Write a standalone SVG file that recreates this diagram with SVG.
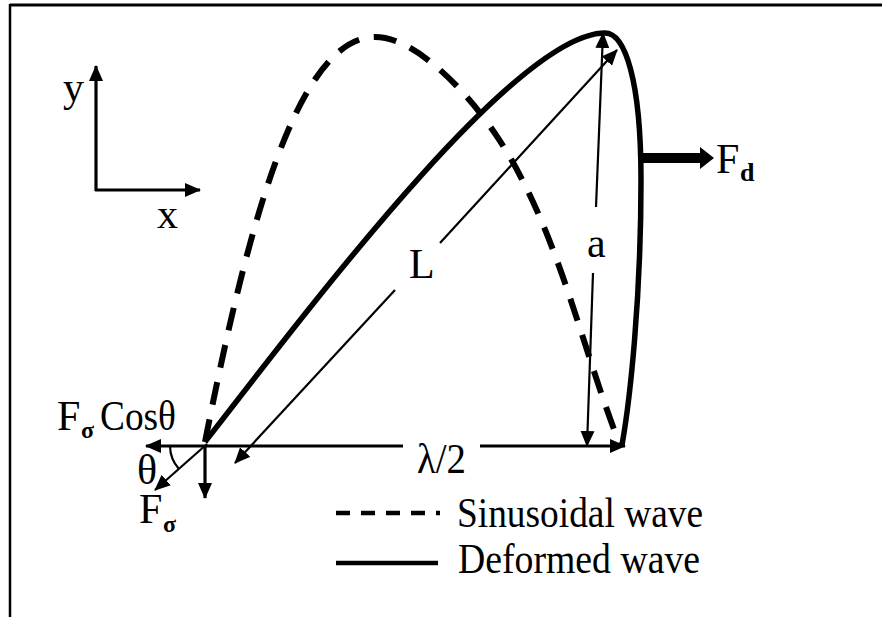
<svg xmlns="http://www.w3.org/2000/svg" width="882" height="617" viewBox="0 0 882 617">
<style>
.t{font-family:"Liberation Serif","Times New Roman",serif;font-size:42px;fill:#000}
.sub{font-family:"Liberation Serif","Times New Roman",serif;font-weight:bold;fill:#000}
.thin{stroke:#000;stroke-width:2.2;fill:none}
.mid{stroke:#000;stroke-width:3.2;fill:none}
.dash{stroke:#000;stroke-width:6;fill:none;stroke-dasharray:23 15}
.solid{stroke:#000;stroke-width:5.5;fill:none;stroke-linejoin:round}
</style>
<defs>
<marker id="ah" markerUnits="userSpaceOnUse" viewBox="0 0 16 14" refX="15" refY="7" markerWidth="16" markerHeight="14" orient="auto">
<path d="M0,0 L16,7 L0,14 z" fill="#000"/>
</marker>
</defs>
<rect width="882" height="617" fill="#fff"/>
<g id="frame">
<line x1="10" y1="5" x2="882" y2="5" stroke="#000" stroke-width="3"/>
<line x1="10" y1="4" x2="10" y2="617" stroke="#000" stroke-width="2.5"/>
</g>
<g id="axes">
<line class="mid" x1="96" y1="191" x2="96" y2="66" marker-end="url(#ah)"/>
<line class="mid" x1="95" y1="190" x2="200" y2="190" marker-end="url(#ah)"/>
<text class="t" x="63" y="101">y</text>
<text class="t" x="157" y="228">x</text>
</g>
<g id="sinusoidal-wave">
<path class="dash" d="M205,442 C245,240 295,37 375,37 C420,37 476,103 500,141 C559,233 580,343 620,445"/>
</g>
<g id="deformed-wave">
<path class="solid" d="M205,442 C330,280 520,33 605,33 C625,33 641,80 641,180 C641,300 630,400 622,445"/>
</g>
<g id="connectors">
<line class="thin" x1="395" y1="290" x2="235" y2="463" marker-end="url(#ah)"/>
<line class="thin" x1="440" y1="243" x2="617" y2="50" marker-end="url(#ah)"/>
<line class="thin" x1="596" y1="207" x2="603" y2="33" marker-end="url(#ah)"/>
<line class="thin" x1="593" y1="273" x2="587" y2="446" marker-end="url(#ah)"/>
<line class="mid" x1="403" y1="446" x2="146" y2="446" marker-end="url(#ah)"/>
<line class="mid" x1="480" y1="446" x2="625" y2="446" marker-end="url(#ah)"/>
<line class="mid" x1="205" y1="446" x2="205" y2="498" marker-end="url(#ah)"/>
<line class="thin" x1="207" y1="444" x2="155" y2="490" marker-end="url(#ah)"/>
<path class="thin" d="M170,446 A35,35 0 0 0 179,469"/>
<path d="M641,153 L700,153 L700,147 L714,158 L700,169 L700,163 L641,163 z" fill="#000"/>
</g>
<g id="labels">
<text class="t" x="409" y="278">L</text>
<text class="t" x="587" y="257">a</text>
<text class="t" x="417" y="473" textLength="49" lengthAdjust="spacingAndGlyphs">λ/2</text>
<text class="t" x="716" y="173">F</text>
<text class="sub" x="740" y="181" font-size="26">d</text>
<text class="t" x="57" y="430">F</text>
<text class="sub" x="81" y="438" font-size="24">σ</text>
<text class="t" x="100" y="430" textLength="76" lengthAdjust="spacingAndGlyphs">Cosθ</text>
<text class="t" x="137" y="484" font-size="38">θ</text>
<text class="t" x="139" y="523">F</text>
<text class="sub" x="163" y="532" font-size="24">σ</text>
</g>
<g id="legend">
<line x1="336" y1="513" x2="440" y2="513" stroke="#000" stroke-width="4.5" stroke-dasharray="14 11"/>
<line x1="336" y1="563" x2="438" y2="563" stroke="#000" stroke-width="4.5"/>
<text class="t" x="457" y="527" textLength="246" lengthAdjust="spacingAndGlyphs">Sinusoidal wave</text>
<text class="t" x="458" y="573" textLength="242" lengthAdjust="spacingAndGlyphs">Deformed wave</text>
</g>
</svg>
